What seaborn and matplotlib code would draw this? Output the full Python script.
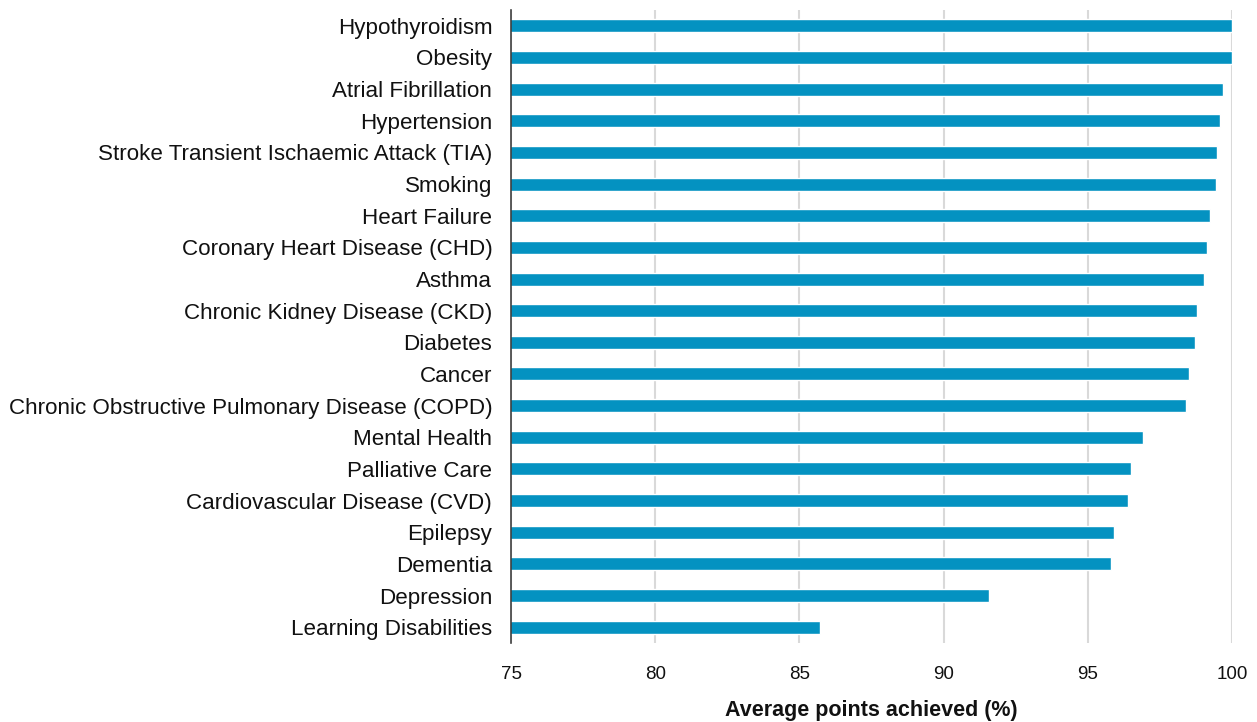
import pandas as pd
import matplotlib
matplotlib.use("Agg")
import matplotlib.pyplot as plt
import seaborn as sns

# categories and values
conditions = [
    "Hypothyroidism", "Obesity", "Atrial Fibrillation", "Hypertension",
    "Stroke Transient Ischaemic Attack (TIA)", "Smoking", "Heart Failure",
    "Coronary Heart Disease (CHD)", "Asthma", "Chronic Kidney Disease (CKD)",
    "Diabetes", "Cancer", "Chronic Obstructive Pulmonary Disease (COPD)",
    "Mental Health", "Palliative Care", "Cardiovascular Disease (CVD)",
    "Epilepsy", "Dementia", "Depression", "Learning Disabilities",
]
points = [
    100.0, 100.0, 99.7, 99.6, 99.49, 99.45, 99.25, 99.14, 99.04, 98.8,
    98.7, 98.5, 98.39, 96.93, 96.51, 96.41, 95.92, 95.82, 91.58, 85.73,
]
x_ticks = [75, 80, 85, 90, 95, 100]

df = pd.DataFrame({"condition": conditions, "points": points})

sns.set_style("white")
plt.rcParams["font.family"] = ["Liberation Sans", "DejaVu Sans"]

fig = plt.figure(figsize=(12.57, 7.22), dpi=100)
ax = fig.add_axes([511 / 1257, 1 - 643 / 722, (1232 - 511) / 1257, (643 - 10) / 722])

sns.barplot(data=df, x="points", y="condition", orient="h", color="#0492c1",
            width=0.41, saturation=1, ax=ax, zorder=2)

ax.set_xlim(75, 100)
ax.set_ylim(19.5, -0.5)
ax.set_xticks(x_ticks)
ax.grid(axis="x", color="#d9d9d9", linewidth=1.5, zorder=0)
ax.set_axisbelow(True)

for side in ["top", "right", "bottom"]:
    ax.spines[side].set_visible(False)
ax.spines["left"].set_color("#404040")
ax.spines["left"].set_linewidth(1.2)
ax.spines["left"].set_zorder(5)

ax.tick_params(axis="y", length=0, pad=13.5, labelsize=16.1, labelcolor="#111111")
ax.tick_params(axis="x", length=0, pad=16.5, labelsize=13.5, labelcolor="#111111")

ax.set_ylabel("")
ax.set_xlabel("Average points achieved (%)", fontsize=15.5, fontweight="bold",
              labelpad=12, color="#111111")

plt.savefig("out.png", dpi=100)
